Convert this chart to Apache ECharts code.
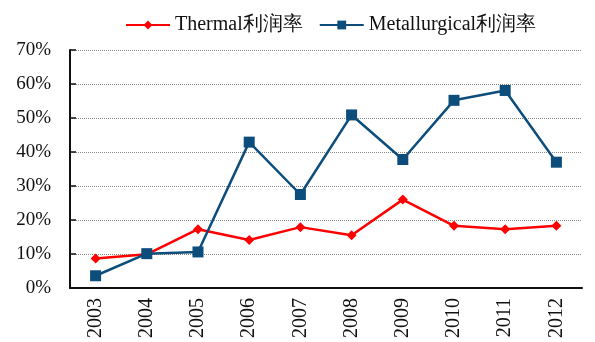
<!DOCTYPE html>
<html>
<head>
<meta charset="utf-8">
<script src="https://cdn.jsdelivr.net/npm/echarts@6/dist/echarts.min.js"></script>
<style>
  html, body { margin: 0; padding: 0; background: #fff; }
  #chart { width: 595px; height: 342px; }
</style>
</head>
<body>
<div id="chart"></div>
<script>
// Profit margins by year (%)
const years = ['2003', '2004', '2005', '2006', '2007', '2008', '2009', '2010', '2011', '2012'];
const thermalMargin = [8.7, 9.9, 17.3, 14.1, 17.9, 15.5, 26.0, 18.3, 17.3, 18.3];
const metallurgicalMargin = [3.6, 10.1, 10.6, 42.9, 27.5, 50.9, 37.8, 55.2, 58.1, 37.0];
const seriesNames = ['Thermal利润率', 'Metallurgical利润率'];

const font = 'Liberation Serif, Times New Roman, serif';

const chart = echarts.init(document.getElementById('chart'));
chart.setOption({
  animation: false,
  textStyle: { fontFamily: font },
  legend: {
    top: 10,
    left: 120,
    itemWidth: 44,
    itemHeight: 11,
    itemGap: 16,
    textStyle: { fontFamily: font, fontSize: 20, color: '#111' },
    data: seriesNames
  },
  grid: { left: 70, right: 13, top: 50, bottom: 54 },
  xAxis: {
    type: 'category',
    data: years,
    boundaryGap: true,
    axisLine: { lineStyle: { color: '#111', width: 2 } },
    axisTick: { inside: true, length: 6, lineStyle: { color: '#111', width: 1.5 } },
    axisLabel: { rotate: 90, fontFamily: font, fontSize: 20, color: '#111', margin: 10 }
  },
  yAxis: {
    type: 'value',
    min: 0,
    max: 70,
    interval: 10,
    axisLine: { show: true, lineStyle: { color: '#111', width: 2 } },
    axisTick: { show: true, inside: true, length: 6, lineStyle: { color: '#111', width: 1.5 } },
    axisLabel: { formatter: '{value}%', fontFamily: font, fontSize: 19, color: '#111', margin: 19 },
    splitLine: { lineStyle: { color: '#888', type: 'dotted', width: 1 } }
  },
  series: [
    {
      name: seriesNames[0],
      type: 'line',
      data: thermalMargin,
      symbol: 'diamond',
      symbolSize: 10,
      color: '#FF0000',
      lineStyle: { width: 2.5, color: '#FF0000' },
      itemStyle: { color: '#FF0000' },
      z: 3
    },
    {
      name: seriesNames[1],
      type: 'line',
      data: metallurgicalMargin,
      symbol: 'rect',
      symbolSize: 11,
      color: '#0D4D7C',
      lineStyle: { width: 2.5, color: '#0D4D7C' },
      itemStyle: { color: '#0D4D7C' },
      z: 4
    }
  ]
});
</script>
</body>
</html>
